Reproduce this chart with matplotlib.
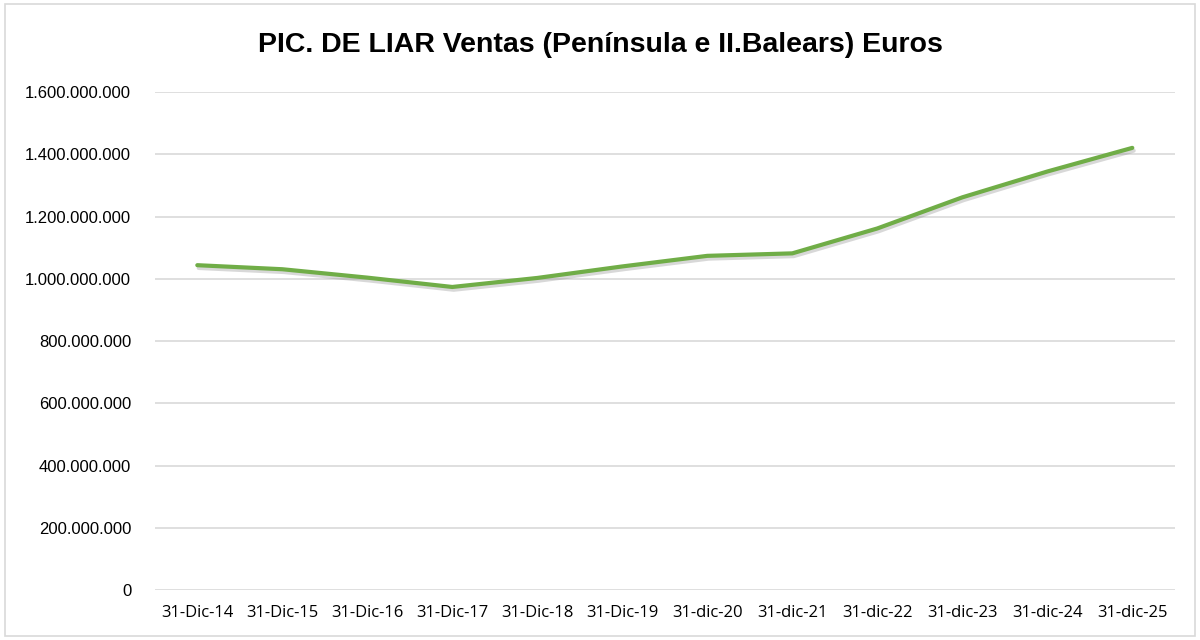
import matplotlib.pyplot as plt
import matplotlib.patheffects as pe
from matplotlib.patches import Rectangle
from matplotlib.ticker import FuncFormatter

# 데이터
fechas = ['31-Dic-14', '31-Dic-15', '31-Dic-16', '31-Dic-17', '31-Dic-18', '31-Dic-19',
          '31-dic-20', '31-dic-21', '31-dic-22', '31-dic-23', '31-dic-24', '31-dic-25']
ventas = [1.044e9, 1.031e9, 1.004e9, 0.974e9, 1.003e9, 1.040e9,
          1.074e9, 1.082e9, 1.162e9, 1.262e9, 1.345e9, 1.421e9]
y_ticks = [0, 2e8, 4e8, 6e8, 8e8, 1e9, 1.2e9, 1.4e9, 1.6e9]

fig = plt.figure(figsize=(12, 6.4), dpi=100)
ax = fig.add_axes([0.129, 0.078, 0.85, 0.778])

x = list(range(len(fechas)))
ax.plot(x, ventas, color='#70AD47', linewidth=3, solid_capstyle='round', zorder=3,
        path_effects=[pe.SimpleLineShadow(offset=(1, -2), shadow_color='gray', alpha=0.3),
                      pe.Normal()])

ax.set_xlim(-0.5, len(fechas) - 0.5)
ax.set_ylim(0, 1.6e9)
ax.set_yticks(y_ticks)
ax.yaxis.set_major_formatter(FuncFormatter(lambda v, p: f'{int(v):,}'.replace(',', '.')))
ax.set_xticks(x)
ax.set_xticklabels(fechas, fontsize=12, family='Open Sans')
for lbl in ax.get_yticklabels():
    lbl.set_fontsize(12)
    lbl.set_family('Liberation Sans')

ax.grid(axis='y', color='#D9D9D9', linewidth=1.2)
ax.set_axisbelow(True)
for s in ax.spines.values():
    s.set_visible(False)
ax.tick_params(axis='both', length=0)
ax.tick_params(axis='y', pad=17)
ax.tick_params(axis='x', pad=11)

fig.text(0.5, 0.93, 'PIC. DE LIAR Ventas (Península e II.Balears) Euros', ha='center', va='center',
         fontsize=20.5, fontweight='bold', family='Liberation Sans')

fig.patches.append(Rectangle((0.004, 0.006), 0.992, 0.988, transform=fig.transFigure,
                             fill=False, edgecolor='#D9D9D9', linewidth=1.2))

fig.savefig('out.png', dpi=100)
